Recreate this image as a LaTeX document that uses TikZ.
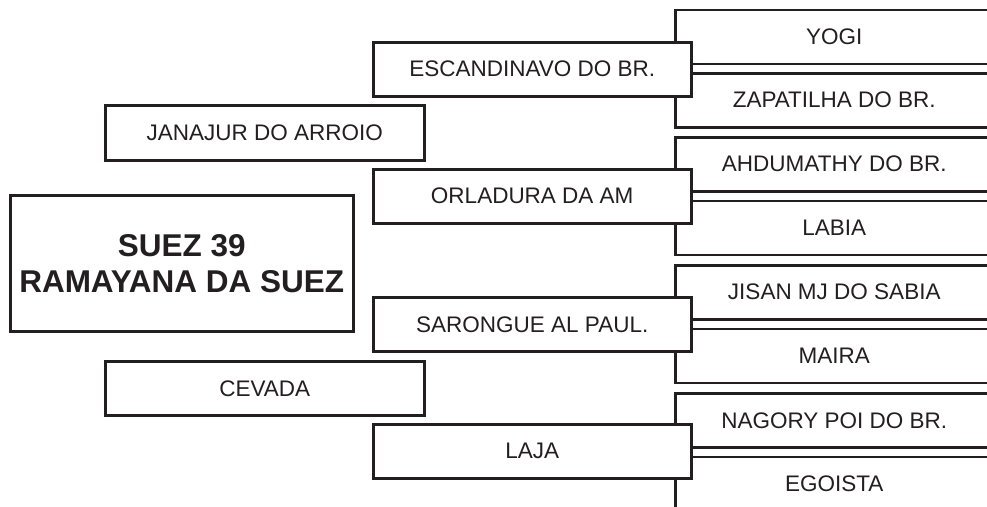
\documentclass[tikz,border=0pt]{standalone}
\usepackage{fontspec}
\setmainfont{Liberation Sans}
\usetikzlibrary{positioning}
\definecolor{ink}{HTML}{231F20}
\tikzset{
  % A horse of the pedigree: a plain framed box
  horse/.style={
    draw=ink, fill=white, line width=2.5pt, rectangle, anchor=north west,
    inner sep=0pt, text=ink, font=\fontsize{22.5}{26}\selectfont,
    minimum width=#1, minimum height=54pt},
  % The animal itself
  subject/.style={
    horse=343pt, minimum height=136pt, align=center,
    font=\fontsize{31.5}{36}\selectfont\bfseries},
}
\begin{document}
\begin{tikzpicture}[x=1pt, y=-1pt]
\clip (0,0) rectangle (987,506);

% great-grandparents (open at the right)
\node[horse=318pt] (yogi)      at (674,8.5)   {YOGI};
\node[horse=318pt] (zapatilha) at (674,72)    {ZAPATILHA DO BR.};
\node[horse=318pt] (ahdumathy) at (674,136)   {AHDUMATHY DO BR.};
\node[horse=318pt] (labia)     at (674,199.5) {LABIA};
\node[horse=318pt] (jisan)     at (674,264)   {JISAN MJ DO SABIA};
\node[horse=318pt] (maira)     at (674,327.5) {MAIRA};
\node[horse=318pt] (nagory)    at (674,392)   {NAGORY POI DO BR.};
\node[horse=318pt] (egoista)   at (674,455.5) {EGOISTA};

% grandparents
\node[horse=318pt] (escandinavo) at (372,41)  {ESCANDINAVO DO BR.};
\node[horse=318pt] (orladura)    at (372,168) {ORLADURA DA AM};
\node[horse=318pt] (sarongue)    at (372,296) {SARONGUE AL PAUL.};
\node[horse=318pt] (laja)        at (372,423) {LAJA};

% parents
\node[horse=319pt, minimum height=55pt] (janajur) at (104,104) {JANAJUR DO ARROIO};
\node[horse=319pt] (cevada) at (104,360) {CEVADA};

\node[subject] (suez) at (9,194) {SUEZ 39\\RAMAYANA DA SUEZ};

\end{tikzpicture}
\end{document}
